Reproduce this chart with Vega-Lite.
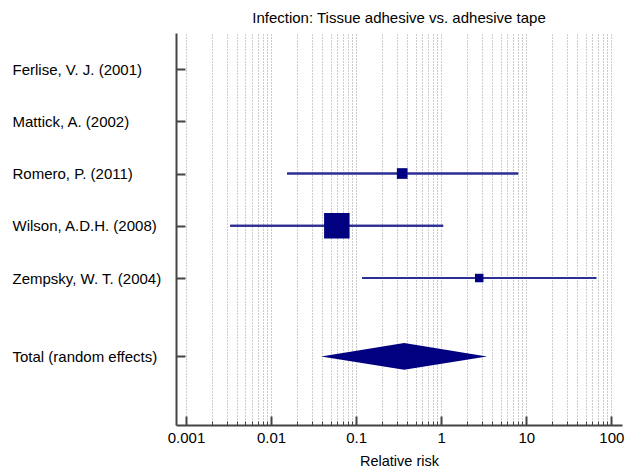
{
  "$schema": "https://vega.github.io/schema/vega-lite/v6.json",
  "width": 446,
  "height": 392,
  "autosize": {"type": "none"},
  "padding": {"left": 176, "top": 33, "right": 3, "bottom": 43},
  "background": "white",
  "title": {
    "text": "Infection: Tissue adhesive vs. adhesive tape",
    "fontSize": 15,
    "fontWeight": "normal",
    "font": "Liberation Sans",
    "color": "#000000",
    "baseline": "alphabetic",
    "frame": "group",
    "offset": -4.5,
    "anchor": "middle"
  },
  "config": {"view": {"stroke": null}, "font": "Liberation Sans"},
  "datasets": {
    "studies": [
      {"study": "Ferlise, V. J. (2001)", "pos": 0, "rr": null, "lo": null, "hi": null, "weight": null},
      {"study": "Mattick, A. (2002)", "pos": 1, "rr": null, "lo": null, "hi": null, "weight": null},
      {"study": "Romero, P. (2011)", "pos": 2, "rr": 0.348, "lo": 0.0154, "hi": 8.05, "weight": 13.6},
      {"study": "Wilson, A.D.H. (2008)", "pos": 3, "rr": 0.0593, "lo": 0.0033, "hi": 1.056, "weight": 77.8},
      {"study": "Zempsky, W. T. (2004)", "pos": 4, "rr": 2.80, "lo": 0.1177, "hi": 66.6, "weight": 8.6}
    ],
    "pooled": [
      {"rr": 0.0388, "top": 5.5, "bottom": 5.5},
      {"rr": 0.367, "top": 5.245, "bottom": 5.755},
      {"rr": 3.45, "top": 5.5, "bottom": 5.5}
    ]
  },
  "layer": [
    {
      "data": {"name": "studies"},
      "mark": {"type": "rule", "color": "#2d2d96", "strokeWidth": 2},
      "encoding": {
        "x": {
          "field": "lo",
          "type": "quantitative",
          "scale": {"type": "log", "domain": [0.0007625, 133.6], "nice": false},
          "axis": {
            "values": [0.001,0.002,0.003,0.004,0.005,0.006,0.007,0.008,0.009,
                       0.01,0.02,0.03,0.04,0.05,0.06,0.07,0.08,0.09,
                       0.1,0.2,0.3,0.4,0.5,0.6,0.7,0.8,0.9,
                       1,2,3,4,5,6,7,8,9,
                       10,20,30,40,50,60,70,80,90,100],
            "labelExpr": "indexof([0.001,0.01,0.1,1,10,100], datum.value) >= 0 ? format(datum.value, '~g') : ''",
            "grid": true,
            "gridDash": [1, 2],
            "gridColor": "#999999",
            "gridWidth": 1,
            "domainColor": "#444444",
            "domainWidth": 2,
            "tickColor": "#444444",
            "tickSize": {"condition": {"test": "indexof([0.001,0.01,0.1,1,10,100], datum.value) >= 0", "value": -9}, "value": -4},
            "tickWidth": {"condition": {"test": "indexof([0.001,0.01,0.1,1,10,100], datum.value) >= 0", "value": 2}, "value": 1},
            "labelPadding": 14,
            "labelFontSize": 15,
            "labelFont": "Liberation Sans",
            "labelColor": "#000000",
            "labelFlush": false,
            "labelOverlap": false,
            "title": "Relative risk",
            "titleFont": "Liberation Sans",
            "titleFontSize": 14.5,
            "titleFontWeight": "normal",
            "titleColor": "#000000",
            "titlePadding": 4
          }
        },
        "x2": {"field": "hi"},
        "y": {
          "field": "pos",
          "type": "quantitative",
          "scale": {"domain": [-0.689, 6.813], "reverse": true, "nice": false, "zero": false},
          "axis": {
            "values": [0, 1, 2, 3, 4, 5.5],
            "labelExpr": "datum.value == 0 ? 'Ferlise, V. J. (2001)' : datum.value == 1 ? 'Mattick, A. (2002)' : datum.value == 2 ? 'Romero, P. (2011)' : datum.value == 3 ? 'Wilson, A.D.H. (2008)' : datum.value == 4 ? 'Zempsky, W. T. (2004)' : 'Total (random effects)'",
            "title": null,
            "grid": false,
            "domainColor": "#444444",
            "domainWidth": 2,
            "tickColor": "#444444",
            "tickWidth": 2,
            "tickSize": -9,
            "labelAlign": "left",
            "labelBaseline": "middle",
            "labelPadding": 173,
            "labelFontSize": 15,
            "labelFont": "Liberation Sans",
            "labelColor": "#000000",
            "labelLimit": 0,
            "labelOverlap": false
          }
        }
      }
    },
    {
      "mark": {"type": "rule", "color": "#9a9acd", "strokeWidth": 1},
      "encoding": {"x": {"datum": 1, "type": "quantitative"}}
    },
    {
      "data": {"name": "studies"},
      "mark": {"type": "rule", "color": "#2d2d96", "strokeWidth": 2},
      "encoding": {
        "x": {"field": "lo", "type": "quantitative"},
        "x2": {"field": "hi"},
        "y": {"field": "pos", "type": "quantitative"}
      }
    },
    {
      "data": {"name": "studies"},
      "mark": {"type": "point", "shape": "square", "filled": true, "color": "#000080", "opacity": 1},
      "encoding": {
        "x": {"field": "rr", "type": "quantitative"},
        "y": {"field": "pos", "type": "quantitative"},
        "size": {"field": "weight", "type": "quantitative", "scale": {"domain": [0, 100], "range": [0, 836]}, "legend": null}
      }
    },
    {
      "data": {"name": "pooled"},
      "mark": {"type": "area", "orient": "vertical", "color": "#000080", "opacity": 1},
      "encoding": {
        "x": {"field": "rr", "type": "quantitative"},
        "y": {"field": "top", "type": "quantitative"},
        "y2": {"field": "bottom"}
      }
    }
  ]
}
